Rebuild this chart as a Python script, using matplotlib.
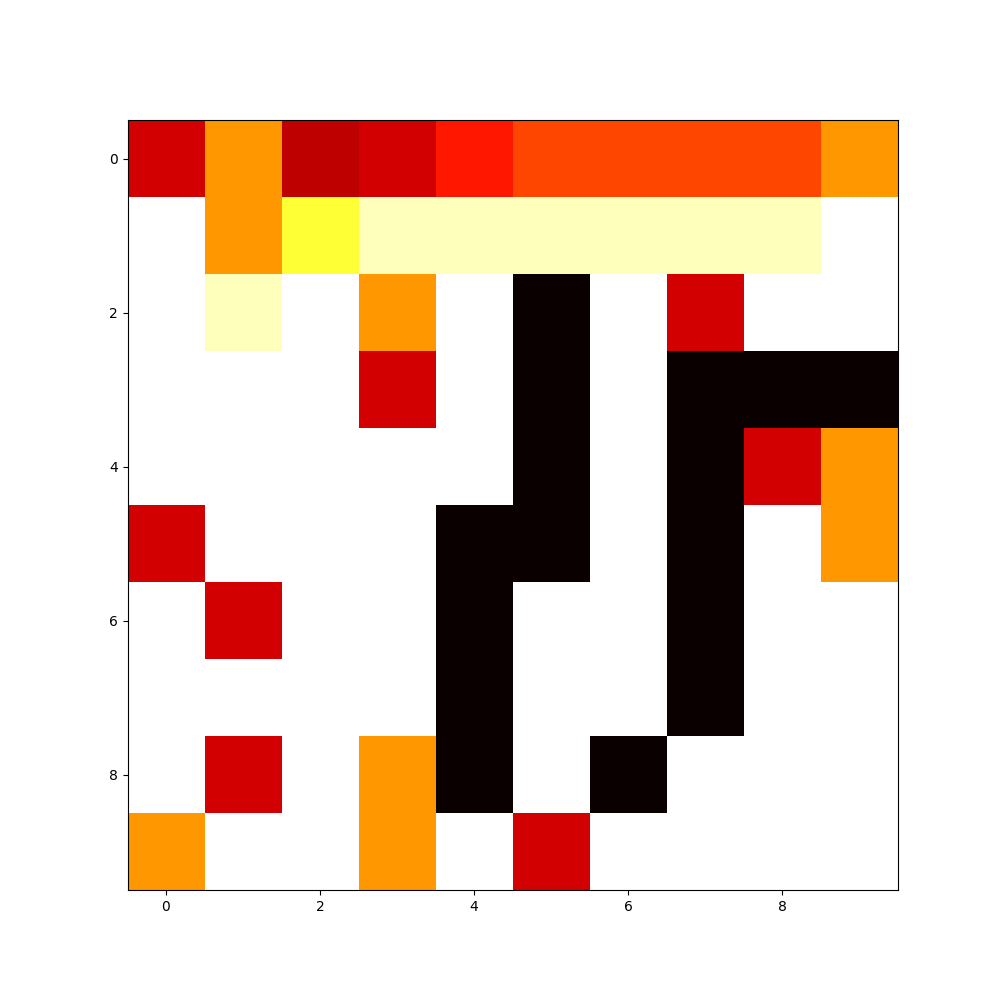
import numpy as np
import matplotlib
matplotlib.use('Agg')
import matplotlib.pyplot as plt

# cell values (0 = black, 1 = white) on the 'hot' colormap
W = 1.0
K = 0.0
DR = 0.27   # dark red
R = 0.30    # red
RO = 0.40   # red-orange
OR = 0.47   # orange-red
O = 0.59    # orange
Y = 0.80    # yellow
P = 0.93    # pale yellow

grid = [
    [R, O, DR, R, RO, OR, OR, OR, OR, O],
    [W, O, Y, P, P, P, P, P, P, W],
    [W, P, W, O, W, K, W, R, W, W],
    [W, W, W, R, W, K, W, K, K, K],
    [W, W, W, W, W, K, W, K, R, O],
    [R, W, W, W, K, K, W, K, W, O],
    [W, R, W, W, K, W, W, K, W, W],
    [W, W, W, W, K, W, W, K, W, W],
    [W, R, W, O, K, W, K, W, W, W],
    [O, W, W, O, W, R, W, W, W, W],
]

fig = plt.figure(figsize=(10, 10))
ax = fig.add_subplot()
ax.imshow(np.array(grid), cmap='hot', vmin=0, vmax=1)
fig.savefig('out.png')
